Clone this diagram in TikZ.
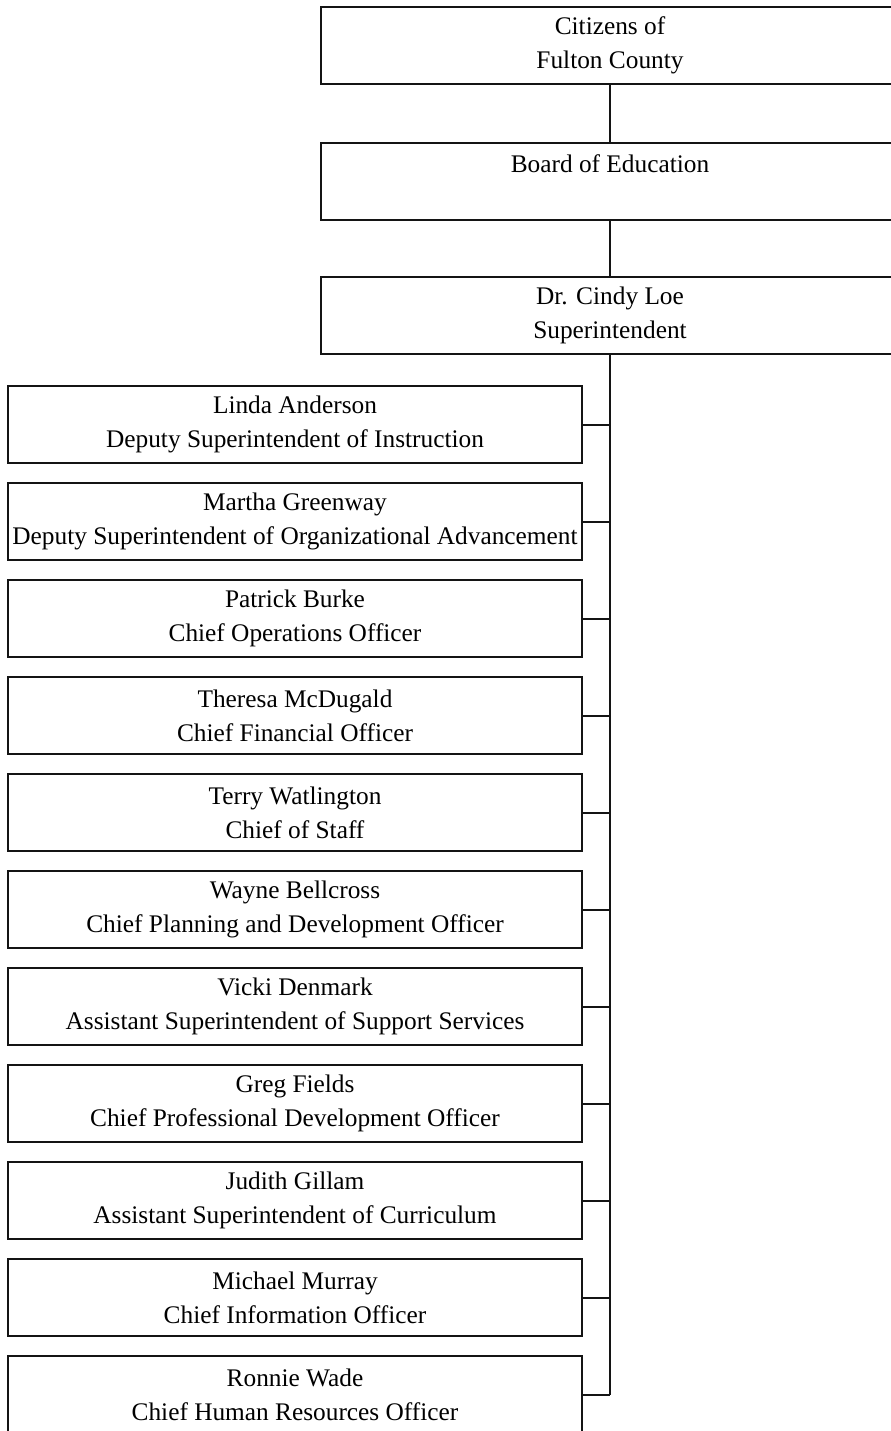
\documentclass[tikz,border=0pt]{standalone}
\usepackage{fontspec}
\setmainfont{Liberation Serif}
\usepackage{tikz}
\usetikzlibrary{positioning,calc}
\definecolor{inkLine}{RGB}{20,20,20}
\newcommand{\orgfont}{\fontsize{19}{25.5}\selectfont}

\begin{document}
\begin{tikzpicture}[x=0.75pt,y=-0.75pt,
    orgBox/.style={draw=inkLine,line width=1.5pt,align=center,font=\orgfont,inner xsep=0pt,minimum height=57.75pt},
    topBox/.style={orgBox,minimum width=433.5pt},
    staffBox/.style={orgBox,minimum width=430.5pt},
    tie/.style={draw=inkLine,line width=1.5pt}]
  \useasboundingbox (0,0) rectangle (891,1431);
  \node[topBox] (citizens) at (610,45.5) {Citizens of\\Fulton County};
  \node[topBox] (board) at (610,181) {Board of Education\\ \mbox{}};
  \node[topBox] (cindy) at (610,315.5) {Dr. Cindy Loe\\Superintendent};
  \node[staffBox] (linda) at (295,424.5) {Linda Anderson\\Deputy Superintendent of Instruction};
  \node[staffBox] (martha) at (295,521.5) {Martha Greenway\\Deputy Superintendent of Organizational Advancement};
  \node[staffBox] (patrick) at (295,618.5) {Patrick Burke\\Chief Operations Officer};
  \node[staffBox] (theresa) at (295,715.5) {Theresa McDugald\\Chief Financial Officer};
  \node[staffBox] (terry) at (295,812.5) {Terry Watlington\\Chief of Staff};
  \node[staffBox] (wayne) at (295,909.5) {Wayne Bellcross\\Chief Planning and Development Officer};
  \node[staffBox] (vicki) at (295,1006.5) {Vicki Denmark\\Assistant Superintendent of Support Services};
  \node[staffBox] (greg) at (295,1103.5) {Greg Fields\\Chief Professional Development Officer};
  \node[staffBox] (judith) at (295,1200.5) {Judith Gillam\\Assistant Superintendent of Curriculum};
  \node[staffBox] (michael) at (295,1297.5) {Michael Murray\\Chief Information Officer};
  \node[staffBox] (ronnie) at (295,1394.5) {Ronnie Wade\\Chief Human Resources Officer};
  \coordinate (trunkEnd) at (ronnie.east -| cindy.south);
  \draw[tie] (citizens.south) -- (board.north);
  \draw[tie] (board.south) -- (cindy.north);
  \draw[tie] (cindy.south) -- (trunkEnd);
  \foreach \who in {linda,martha,patrick,theresa,terry,wayne,vicki,greg,judith,michael,ronnie}
    \draw[tie] (\who.east) -- (\who.east -| cindy.south);
\end{tikzpicture}
\end{document}
